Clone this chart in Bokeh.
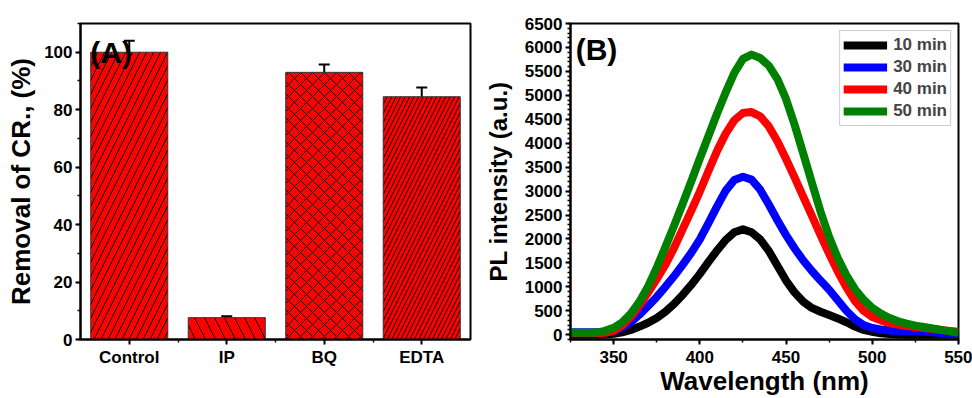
from bokeh.plotting import figure
from bokeh.models import (Range1d, SingleIntervalTicker, FixedTicker, ColumnDataSource,
                          Whisker, TeeHead, Label, Legend, LegendItem)
from bokeh.layouts import row
from bokeh.embed import file_html
from bokeh.resources import INLINE

# ---------------- data: panel (A) ----------------
categories = ["Control", "IP", "BQ", "EDTA"]
removal = [100.0, 7.6, 93.0, 84.5]
removal_err = [4.0, 0.5, 2.7, 3.2]

# ---------------- data: panel (B) ----------------
wavelength = [325, 330, 335, 340, 345, 350, 355, 360, 365, 370, 375, 380, 385, 390, 395,
              400, 405, 410, 415, 420, 425, 430, 435, 440, 445, 450, 455, 460, 465, 470,
              475, 480, 485, 490, 495, 500, 505, 510, 515, 520, 525, 530, 535, 540, 545, 550]
pl_10min = [0, 0, 0, 0, 5, 20, 50, 100, 170, 250, 350, 480, 640, 830, 1040,
            1270, 1520, 1760, 1980, 2140, 2200, 2140, 1990, 1750, 1440, 1130, 880, 690, 560, 480,
            410, 340, 260, 170, 100, 60, 30, 15, 5, 0, 0, 0, 0, 0, 0, 0]
pl_30min = [50, 50, 50, 50, 55, 75, 140, 260, 420, 600, 790, 1000, 1220, 1460, 1710,
            1990, 2330, 2680, 3010, 3230, 3300, 3240, 3030, 2720, 2390, 2080, 1800, 1550, 1330, 1130,
            940, 720, 500, 320, 200, 140, 110, 90, 80, 75, 70, 60, 50, 35, 20, 10]
pl_40min = [30, 30, 30, 30, 40, 80, 190, 370, 610, 880, 1160, 1460, 1810, 2200, 2590,
            2990, 3420, 3840, 4200, 4480, 4630, 4650, 4560, 4350, 4040, 3670, 3280, 2880, 2480, 2080,
            1690, 1320, 990, 700, 500, 370, 300, 240, 210, 180, 160, 140, 120, 100, 80, 60]
pl_50min = [40, 40, 40, 45, 80, 145, 260, 440, 690, 1010, 1400, 1830, 2270, 2730, 3200,
            3680, 4150, 4620, 5060, 5470, 5760, 5850, 5780, 5620, 5340, 4920, 4380, 3780, 3170, 2570,
            2040, 1600, 1240, 950, 730, 560, 440, 350, 280, 230, 190, 160, 130, 100, 70, 40]
series_labels = ["10 min", "30 min", "40 min", "50 min"]

# ---------------- styles ----------------
FONT = "Liberation Sans"
hatch_patterns = ["/", "\\", "x", "/"]
hatch_scales = [14, 20, 12, 9]
line_colors = ["#000000", "#0000FF", "#FF0000", "#008000"]


def style_axes(p):
    for ax in p.axis:
        ax.axis_line_width = 2
        ax.major_tick_line_width = 2
        ax.major_tick_out = 5
        ax.major_tick_in = 0
        ax.minor_tick_line_width = 1.5
        ax.minor_tick_out = 3
        ax.minor_tick_in = 0
        ax.major_label_text_font = FONT
        ax.major_label_text_font_style = "bold"
        ax.major_label_text_font_size = "17px"
        ax.major_label_text_color = "black"
        ax.major_label_standoff = 3
        ax.axis_label_text_font = FONT
        ax.axis_label_text_font_style = "bold"
        ax.axis_label_text_color = "black"
    p.xgrid.visible = False
    p.ygrid.visible = False
    p.outline_line_color = "black"
    p.outline_line_width = 2
    p.outline_line_alpha = 1.0


# ---------------- panel (A) ----------------
positions = [i + 1 for i in range(len(categories))]
src = ColumnDataSource(dict(
    x=positions,
    top=removal,
    upper=[v + e for v, e in zip(removal, removal_err)],
    lower=[v - e for v, e in zip(removal, removal_err)],
    hatch=hatch_patterns,
    hscale=hatch_scales,
))

p1 = figure(width=480, height=398, x_range=Range1d(0.5, 4.5), y_range=Range1d(0, 110),
            output_backend="svg", toolbar_location=None,
            min_border_left=80, min_border_right=10, min_border_top=23, min_border_bottom=57)
p1.vbar(x="x", top="top", bottom=0, width=0.79, source=src,
        fill_color="#FF0000", line_color="#333333", line_width=1,
        hatch_pattern="hatch", hatch_scale="hscale", hatch_color="black", hatch_weight=1)
whisk = Whisker(source=src, base="x", upper="upper", lower="lower", line_width=2, line_color="black",
                upper_head=TeeHead(size=11, line_width=2, line_color="black"),
                lower_head=TeeHead(size=11, line_width=2, line_color="black"))
p1.add_layout(whisk)

p1.yaxis.ticker = SingleIntervalTicker(interval=20, num_minor_ticks=2)
p1.xaxis.ticker = FixedTicker(ticks=positions,
                              minor_ticks=[i + 1.5 for i in range(len(categories) - 1)])
p1.xaxis.major_label_overrides = {pos: cat for pos, cat in zip(positions, categories)}
p1.yaxis.axis_label = "Removal of CR., (%)"
style_axes(p1)
p1.yaxis.axis_label_text_font_size = "26px"
p1.yaxis.axis_label_standoff = 5
p1.xaxis.major_label_standoff = 3
p1.add_layout(Label(x=0.6, y=100, text="(A)", text_font=FONT, text_font_style="bold",
                    text_font_size="30px", text_baseline="middle", text_color="black"))

# ---------------- panel (B) ----------------
p2 = figure(width=492, height=398, x_range=Range1d(325, 550), y_range=Range1d(-100, 6500),
            output_backend="svg", toolbar_location=None,
            min_border_left=90, min_border_right=14, min_border_top=23, min_border_bottom=57)
renderers = []
for ys, col in zip([pl_10min, pl_30min, pl_40min, pl_50min], line_colors):
    r = p2.line(wavelength, ys, line_width=8, line_color=col, line_join="round")
    renderers.append(r)

legend = Legend(items=[LegendItem(label=lab, renderers=[r]) for lab, r in zip(series_labels, renderers)],
                location="top_right", margin=7, padding=3, spacing=0,
                glyph_width=44, glyph_height=22, label_height=22, label_standoff=6,
                label_text_font=FONT, label_text_font_style="bold", label_text_font_size="17px",
                border_line_color="#999999", border_line_width=1, background_fill_alpha=1)
p2.add_layout(legend)

p2.xaxis.ticker = SingleIntervalTicker(interval=50, num_minor_ticks=2)
p2.yaxis.ticker = SingleIntervalTicker(interval=500, num_minor_ticks=5)
p2.xaxis.axis_label = "Wavelength (nm)"
p2.yaxis.axis_label = "PL intensity (a.u.)"
style_axes(p2)
p2.xaxis.axis_label_text_font_size = "26px"
p2.yaxis.axis_label_text_font_size = "24px"
p2.xaxis.axis_label_standoff = 0
p2.yaxis.axis_label_standoff = 10
p2.xaxis.major_label_standoff = 6
p2.add_layout(Label(x=328, y=5950, text="(B)", text_font=FONT, text_font_style="bold",
                    text_font_size="30px", text_baseline="middle", text_color="black"))

layout = row(p1, p2)
open("out.html", "w").write(file_html(layout, INLINE))
